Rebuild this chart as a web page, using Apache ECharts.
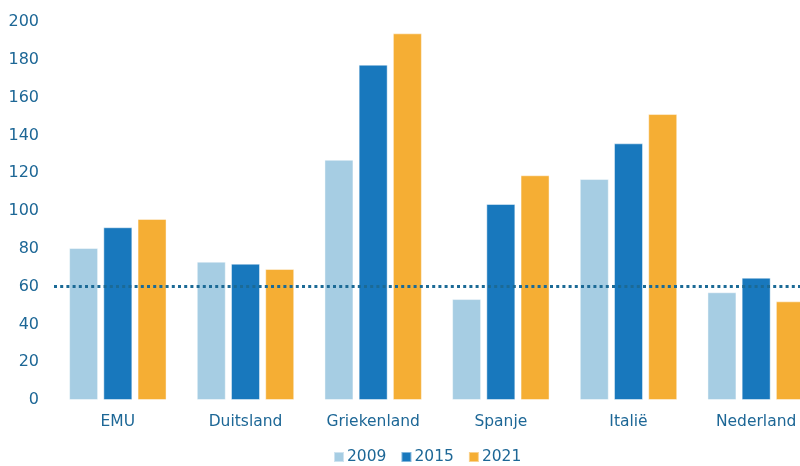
<!DOCTYPE html>
<html>
<head>
<meta charset="utf-8">
<script src="https://cdn.jsdelivr.net/npm/echarts@6/dist/echarts.min.js"></script>
<style>html,body{margin:0;padding:0;background:#fff}#c{width:800px;height:466px}</style>
</head>
<body>
<div id="c"></div>
<script>
var categories = ['EMU', 'Duitsland', 'Griekenland', 'Spanje', 'Italië', 'Nederland'];
var years = ['2009', '2015', '2021'];
var v2009 = [80.4, 73.2, 127.1, 53.4, 116.9, 57.0];
var v2015 = [91.4, 72.1, 177.4, 103.7, 135.8, 64.7];
var v2021 = [95.8, 69.3, 194.0, 118.9, 151.3, 52.2];
var norm = 60;
var colors = ['#a6cde3', '#1878bd', '#f5ae34'];
var textColor = '#1d6796';
var font = 'DejaVu Sans';

var chart = echarts.init(document.getElementById('c'));
function bar(name, data, color, extra) {
  var s = {
    name: name, type: 'bar', data: data, barWidth: 29, barGap: '18%',
    itemStyle: { color: color, borderColor: 'rgba(255,255,255,0.45)', borderWidth: 1 },
    emphasis: { disabled: true }
  };
  if (extra) for (var k in extra) s[k] = extra[k];
  return s;
}
chart.setOption({
  animation: false,
  color: colors,
  grid: { left: 54, right: -20, top: 22, bottom: 66, containLabel: false, outerBoundsMode: 'none' },
  legend: {
    data: years, top: 446, left: 328, itemWidth: 10, itemHeight: 10, itemGap: 14,
    icon: 'rect', padding: [3, 5, 3, 5],
    textStyle: { color: textColor, fontFamily: font, fontSize: 15.5, padding: [0, 0, 0, -2] }
  },
  xAxis: {
    type: 'category', data: categories,
    axisLine: { show: false }, axisTick: { show: false },
    axisLabel: { color: textColor, fontFamily: font, fontSize: 15.5, margin: 14 }
  },
  yAxis: {
    type: 'value', min: 0, max: 200, interval: 20,
    axisLine: { show: false }, axisTick: { show: false }, splitLine: { show: false },
    axisLabel: { color: textColor, fontFamily: font, fontSize: 16, margin: 15 }
  },
  series: [
    bar(years[0], v2009, colors[0]),
    bar(years[1], v2015, colors[1]),
    bar(years[2], v2021, colors[2], {
      markLine: {
        silent: true, symbol: 'none', z: 10,
        label: { show: false },
        lineStyle: { color: '#1b6a96', width: 3, type: [3, 3.2] },
        data: [{ yAxis: norm }]
      }
    })
  ]
});
</script>
</body>
</html>
